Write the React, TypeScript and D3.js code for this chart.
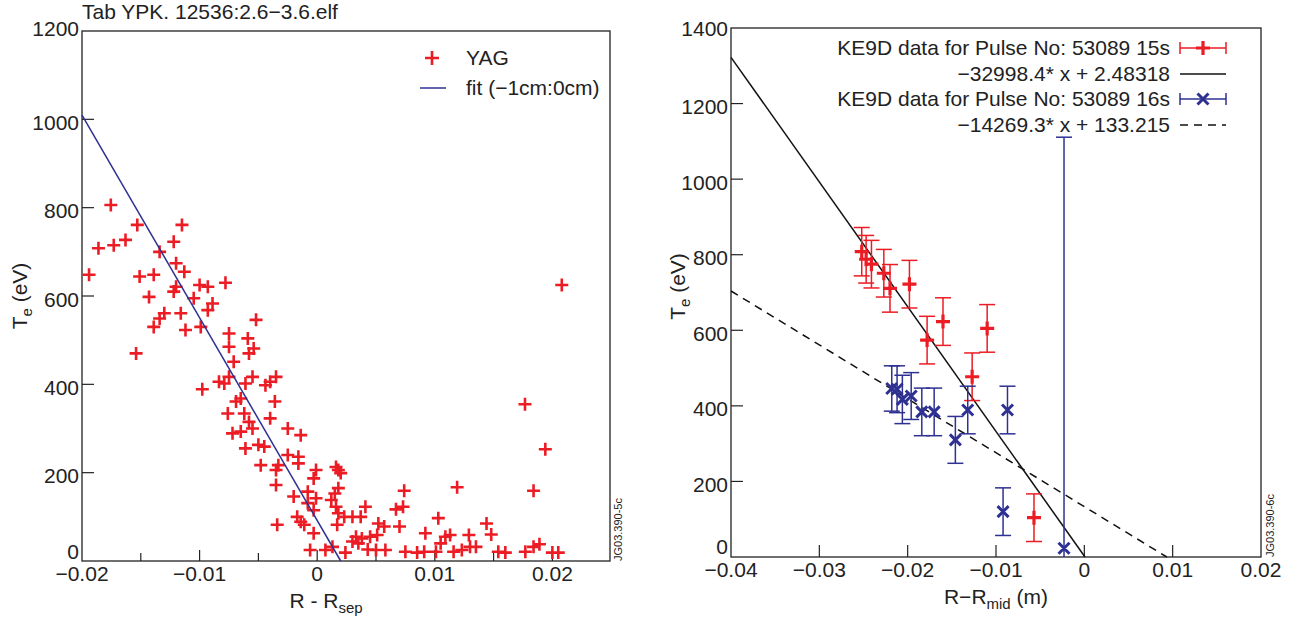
import React from 'react';
import * as d3 from 'd3';

// ---------- Left panel data (YAG) ----------
const yagR = [
  -0.01755, -0.0153, -0.0115, -0.0186, -0.0173, -0.0163, -0.0122, -0.0134, -0.0194, -0.0151,
  -0.0139, -0.012, -0.0113, -0.012, -0.0122, -0.01, -0.0093, -0.0078, -0.0143, -0.0105,
  -0.0089, -0.0093, -0.013, -0.0134, -0.0139, -0.0116, -0.0112, -0.0099, -0.0154, -0.0075,
  -0.0052, -0.0059, -0.0054, -0.0075, -0.0058, -0.0071,
  -0.00977, -0.00835, -0.0079, -0.0075, -0.0061, -0.0055, -0.0044, -0.004, -0.0035, -0.0065,
  -0.0069, -0.0036, -0.0076, -0.0062, -0.0058, -0.004, -0.0025, -0.0014, -0.0072, -0.0065,
  -0.0055, -0.0061, -0.005, -0.0045, -0.0048, -0.0025, -0.0016, -0.0033, -0.0035, -0.0016,
  -0.0035, -0.002, -0.0008, -0.0001, -0.0008, -0.0003, -0.0034, -0.0017, -0.0014, -0.0011,
  -0.0003, -0.0006, 0.0007, -0.0001,
  0.01767, 0.0194, 0.0184, 0.0119, 0.0074, 0.0073, 0.0067, 0.007, 0.0103, 0.0092,
  0.0113, 0.0109, 0.0129, 0.0144, 0.0148, 0.0154, 0.016, 0.0177, 0.0184, 0.0189,
  0.02, 0.0205, 0.0013, 0.0024, 0.0041, 0.0043, 0.005, 0.0058, 0.0075, 0.0085,
  0.0091, 0.0101, 0.0105, 0.0116, 0.0123, 0.013, 0.0135, 0.0016, 0.0018, 0.002,
  -0.0003, 0.0018, 0.0015, 0.0012, 0.0016, 0.0018, 0.0017, 0.0023, 0.003, 0.0037,
  0.0033, 0.0038, 0.0045, 0.0051, 0.0052, 0.0057, 0.0035, 0.003, 0.0208,
];
const yagTe = [
  806, 761, 761, 708, 715, 727, 723, 700, 648, 644,
  648, 674, 655, 621, 610, 625, 621, 630, 598, 595,
  583, 568, 561, 549, 530, 561, 523, 530, 470, 515,
  546, 504, 481, 485, 470, 451,
  389, 406, 402, 417, 402, 417, 398, 406, 417, 368,
  361, 361, 334, 334, 315, 323, 300, 285, 289, 293,
  300, 255, 263, 259, 217, 240, 236, 217, 206, 221,
  172, 146, 157, 142, 131, 115, 82, 100, 89, 82,
  63, 25, 25, 206,
  355, 253, 159, 167, 159, 123, 117, 78, 97, 63,
  59, 55, 59, 85, 60, 21, 19, 21, 32, 38,
  19, 19, 32, 19, 123, 26, 25, 25, 21, 19,
  21, 21, 40, 21, 25, 32, 32, 213, 206, 199,
  187, 165, 153, 138, 123, 108, 82, 100, 100, 100,
  55, 51, 55, 59, 85, 78, 40, 44, 625,
];
const leftFitSlope = -45900;
const leftFitIntercept = 91.8;
const leftFitFrom = -0.02;
const leftFitTo = 0.002;

const leftXTicks = [-0.02, -0.01, 0, 0.01, 0.02];
const leftXMinor = [-0.015, -0.005, 0.005, 0.015];
const leftYTicks = [0, 200, 400, 600, 800, 1000, 1200];

// ---------- Right panel data (KE9D) ----------
const red15R = [-0.0252, -0.0247, -0.0241, -0.0227, -0.022, -0.0198, -0.0178, -0.016, -0.0127, -0.011, -0.0057];
const red15Te = [808, 788, 775, 751, 711, 722, 574, 623, 477, 605, 104];
const red15Err = [64, 63, 63, 63, 63, 63, 63, 63, 63, 63, 63];

const blue16R = [-0.0218, -0.0212, -0.0206, -0.0196, -0.0184, -0.017, -0.0146, -0.0132, -0.0092, -0.0087, -0.0023];
const blue16Te = [446, 444, 417, 426, 384, 384, 310, 389, 120, 389, 23];
const blue16Err = [60, 62, 64, 62, 63, 63, 62, 63, 63, 63, 1088];

const fit15Slope = -32998.4;
const fit15Intercept = 2.48318;
const fit16Slope = -14269.3;
const fit16Intercept = 133.215;

const rightXTicks = [-0.04, -0.03, -0.02, -0.01, 0, 0.01, 0.02];
const rightYTicks = [0, 200, 400, 600, 800, 1000, 1200, 1400];

const legendRight = [
  'KE9D data for Pulse No: 53089 15s',
  '\u221232998.4* x + 2.48318',
  'KE9D data for Pulse No: 53089 16s',
  '\u221214269.3* x + 133.215',
];

const RED = '#ec1c24';
const NAVY = '#2e3192';
const FONT = '"Liberation Sans", Arial, Helvetica, sans-serif';

const fmt = (v: number) => {
  if (Math.abs(v) < 1e-12) return '0';
  const s = d3.format('.2f')(Math.abs(v));
  return (v < 0 ? '\u2212' : '') + s;
};

const plus = (x: number, y: number, s: number) => `M${x - s},${y}H${x + s}M${x},${y - s}V${y + s}`;
const cross = (x: number, y: number, s: number) =>
  `M${x - s},${y - s}L${x + s},${y + s}M${x - s},${y + s}L${x + s},${y - s}`;

function LeftPanel() {
  const x0 = 82, x1 = 610, y0 = 31, y1 = 561;
  const xs = d3.scaleLinear().domain([-0.02, 0.0249]).range([x0, x1]);
  const ys = d3.scaleLinear().domain([0, 1200]).range([y1, y0]);
  const fitLine = d3.line<number>().x((d) => xs(d)).y((d) => ys(leftFitSlope * d + leftFitIntercept));
  return (
    <g>
      <text x={x0} y={19} fontSize={21} fontFamily={FONT} fill="#222">Tab YPK. 12536:2.6{'\u2212'}3.6.elf</text>
      <rect x={x0} y={y0} width={x1 - x0} height={y1 - y0} fill="none" stroke="#222" strokeWidth={1.3} />
      {leftYTicks.map((t) => (
        <g key={'ly' + t}>
          {t > 0 && t < 1200 && <line x1={x0} x2={x0 + 12} y1={ys(t)} y2={ys(t)} stroke="#222" strokeWidth={1.2} />}
          <text x={x0 - 3} y={t === 0 ? y1 - 10 : ys(t) + (t === 1200 ? -3 : 3)} fontSize={21} fontFamily={FONT}
            textAnchor="end" dominantBaseline="central" fill="#222">{t}</text>
        </g>
      ))}
      {leftXTicks.map((t) => (
        <g key={'lx' + t}>
          {t > -0.02 && <line x1={xs(t)} x2={xs(t)} y1={y1} y2={y1 - 11} stroke="#222" strokeWidth={1.2} />}
          <text x={xs(t)} y={y1 + 20} fontSize={21} fontFamily={FONT} textAnchor="middle" fill="#222">{fmt(t)}</text>
        </g>
      ))}
      {leftXMinor.map((t) => (
        <line key={'lm' + t} x1={xs(t)} x2={xs(t)} y1={y1} y2={y1 - 8} stroke="#222" strokeWidth={1.2} />
      ))}
      <path d={yagR.map((r, i) => plus(xs(r), ys(yagTe[i]), 6.5)).join('')} stroke={RED} strokeWidth={2.6} fill="none" />
      <path d={fitLine([leftFitFrom, leftFitTo]) || ''} stroke={NAVY} strokeWidth={1.5} fill="none" />
      {/* legend */}
      <path d={plus(432, 58, 7)} stroke={RED} strokeWidth={2.6} fill="none" />
      <text x={466} y={65} fontSize={21} fontFamily={FONT} fill="#222">YAG</text>
      <line x1={420} x2={446} y1={88} y2={88} stroke={NAVY} strokeWidth={1.5} />
      <text x={466} y={95} fontSize={21} fontFamily={FONT} fill="#222">fit ({'\u2212'}1cm:0cm)</text>
      {/* axis labels */}
      <text transform={`translate(27,${(y0 + y1) / 2}) rotate(-90)`} fontSize={21} fontFamily={FONT} textAnchor="middle" fill="#222">
        T<tspan fontSize={15} dy={5}>e</tspan><tspan dy={-5}> (eV)</tspan>
      </text>
      <text x={(x0 + x1) / 2 - 20} y={608} fontSize={21} fontFamily={FONT} textAnchor="middle" fill="#222">
        R - R<tspan fontSize={15} dy={5}>sep</tspan>
      </text>
      <text transform={`translate(${x1 + 12},${y1}) rotate(-90)`} fontSize={11} fontFamily={FONT} fill="#222">JG03.390-5c</text>
    </g>
  );
}

function ErrorBars({ rs, tes, errs, xs, ys, color }: any) {
  const cw = 8;
  return (
    <g stroke={color} strokeWidth={1.5} fill="none">
      {rs.map((r: number, i: number) => {
        const x = xs(r);
        const lo = Math.max(0, tes[i] - errs[i]);
        const hi = tes[i] + errs[i];
        const yl = ys(lo), yh = ys(hi);
        return (
          <g key={i}>
            <line x1={x} x2={x} y1={yl} y2={yh} />
            <line x1={x - cw} x2={x + cw} y1={yh} y2={yh} />
            {tes[i] - errs[i] > 0 && <line x1={x - cw} x2={x + cw} y1={yl} y2={yl} />}
          </g>
        );
      })}
    </g>
  );
}

function RightPanel() {
  const x0 = 731, x1 = 1261, y0 = 28, y1 = 557;
  const xs = d3.scaleLinear().domain([-0.04, 0.02]).range([x0, x1]);
  const ys = d3.scaleLinear().domain([0, 1400]).range([y1, y0]);
  const l15 = d3.line<number>().x((d) => xs(d)).y((d) => ys(fit15Slope * d + fit15Intercept));
  const l16 = d3.line<number>().x((d) => xs(d)).y((d) => ys(fit16Slope * d + fit16Intercept));
  const end15 = -fit15Intercept / fit15Slope;
  const end16 = -fit16Intercept / fit16Slope;
  const lx0 = 1180, lx1 = 1226, lxm = (lx0 + lx1) / 2;
  const rows = [48, 74, 99, 125];
  return (
    <g>
      <rect x={x0} y={y0} width={x1 - x0} height={y1 - y0} fill="none" stroke="#222" strokeWidth={1.3} />
      {rightYTicks.map((t) => (
        <g key={'ry' + t}>
          {t > 0 && t < 1400 && <line x1={x0} x2={x0 + 12} y1={ys(t)} y2={ys(t)} stroke="#222" strokeWidth={1.2} />}
          <text x={x0 - 3} y={t === 0 ? y1 - 11 : ys(t) + (t === 1400 ? 0 : 3)} fontSize={21} fontFamily={FONT}
            textAnchor="end" dominantBaseline="central" fill="#222">{t}</text>
        </g>
      ))}
      {rightXTicks.map((t) => (
        <g key={'rx' + t}>
          {t > -0.04 && t < 0.02 && <line x1={xs(t)} x2={xs(t)} y1={y1} y2={y1 - 12} stroke="#222" strokeWidth={1.2} />}
          <text x={xs(t)} y={y1 + 20} fontSize={21} fontFamily={FONT} textAnchor="middle" fill="#222">{fmt(t)}</text>
        </g>
      ))}
      <path d={l15([-0.04, end15]) || ''} stroke="#111" strokeWidth={1.5} fill="none" />
      <path d={l16([-0.04, end16]) || ''} stroke="#111" strokeWidth={1.5} fill="none" strokeDasharray="8,6" />
      <ErrorBars rs={red15R} tes={red15Te} errs={red15Err} xs={xs} ys={ys} color={RED} />
      <ErrorBars rs={blue16R} tes={blue16Te} errs={blue16Err} xs={xs} ys={ys} color={NAVY} />
      <path d={red15R.map((r, i) => plus(xs(r), ys(red15Te[i]), 7)).join('')} stroke={RED} strokeWidth={3.2} fill="none" />
      <path d={blue16R.map((r, i) => cross(xs(r), ys(blue16Te[i]), 5.5)).join('')} stroke={NAVY} strokeWidth={3} fill="none" />
      {/* legend */}
      {legendRight.map((s, i) => (
        <text key={s} x={1170} y={rows[i] + 7} fontSize={21} fontFamily={FONT} textAnchor="end" fill="#222">{s}</text>
      ))}
      <g stroke={RED} strokeWidth={1.5}>
        <line x1={lx0} x2={lx1} y1={rows[0]} y2={rows[0]} />
        <line x1={lx0} x2={lx0} y1={rows[0] - 6} y2={rows[0] + 6} />
        <line x1={lx1} x2={lx1} y1={rows[0] - 6} y2={rows[0] + 6} />
      </g>
      <path d={plus(lxm, rows[0], 7)} stroke={RED} strokeWidth={3.2} fill="none" />
      <line x1={lx0} x2={lx1} y1={rows[1]} y2={rows[1]} stroke="#111" strokeWidth={1.5} />
      <g stroke={NAVY} strokeWidth={1.5}>
        <line x1={lx0} x2={lx1} y1={rows[2]} y2={rows[2]} />
        <line x1={lx0} x2={lx0} y1={rows[2] - 6} y2={rows[2] + 6} />
        <line x1={lx1} x2={lx1} y1={rows[2] - 6} y2={rows[2] + 6} />
      </g>
      <path d={cross(lxm, rows[2], 5.5)} stroke={NAVY} strokeWidth={3} fill="none" />
      <line x1={lx0} x2={lx1} y1={rows[3]} y2={rows[3]} stroke="#111" strokeWidth={1.5} strokeDasharray="8,6" />
      {/* axis labels */}
      <text transform={`translate(${x0 - 46},${(y0 + y1) / 2 - 6}) rotate(-90)`} fontSize={21} fontFamily={FONT} textAnchor="middle" fill="#222">
        T<tspan fontSize={15} dy={5}>e</tspan><tspan dy={-5}> (eV)</tspan>
      </text>
      <text x={(x0 + x1) / 2} y={604} fontSize={21} fontFamily={FONT} textAnchor="middle" fill="#222">
        R{'\u2212'}R<tspan fontSize={15} dy={5}>mid</tspan><tspan dy={-5}> (m)</tspan>
      </text>
      <text transform={`translate(${x1 + 13},${y1}) rotate(-90)`} fontSize={11} fontFamily={FONT} fill="#222">JG03.390-6c</text>
    </g>
  );
}

export default function App() {
  return (
    <svg width={1294} height={617} viewBox="0 0 1294 617" style={{ position: 'absolute', left: 0, top: 0, background: '#fff' }}>
      <rect width={1294} height={617} fill="#fff" />
      <LeftPanel />
      <RightPanel />
    </svg>
  );
}
